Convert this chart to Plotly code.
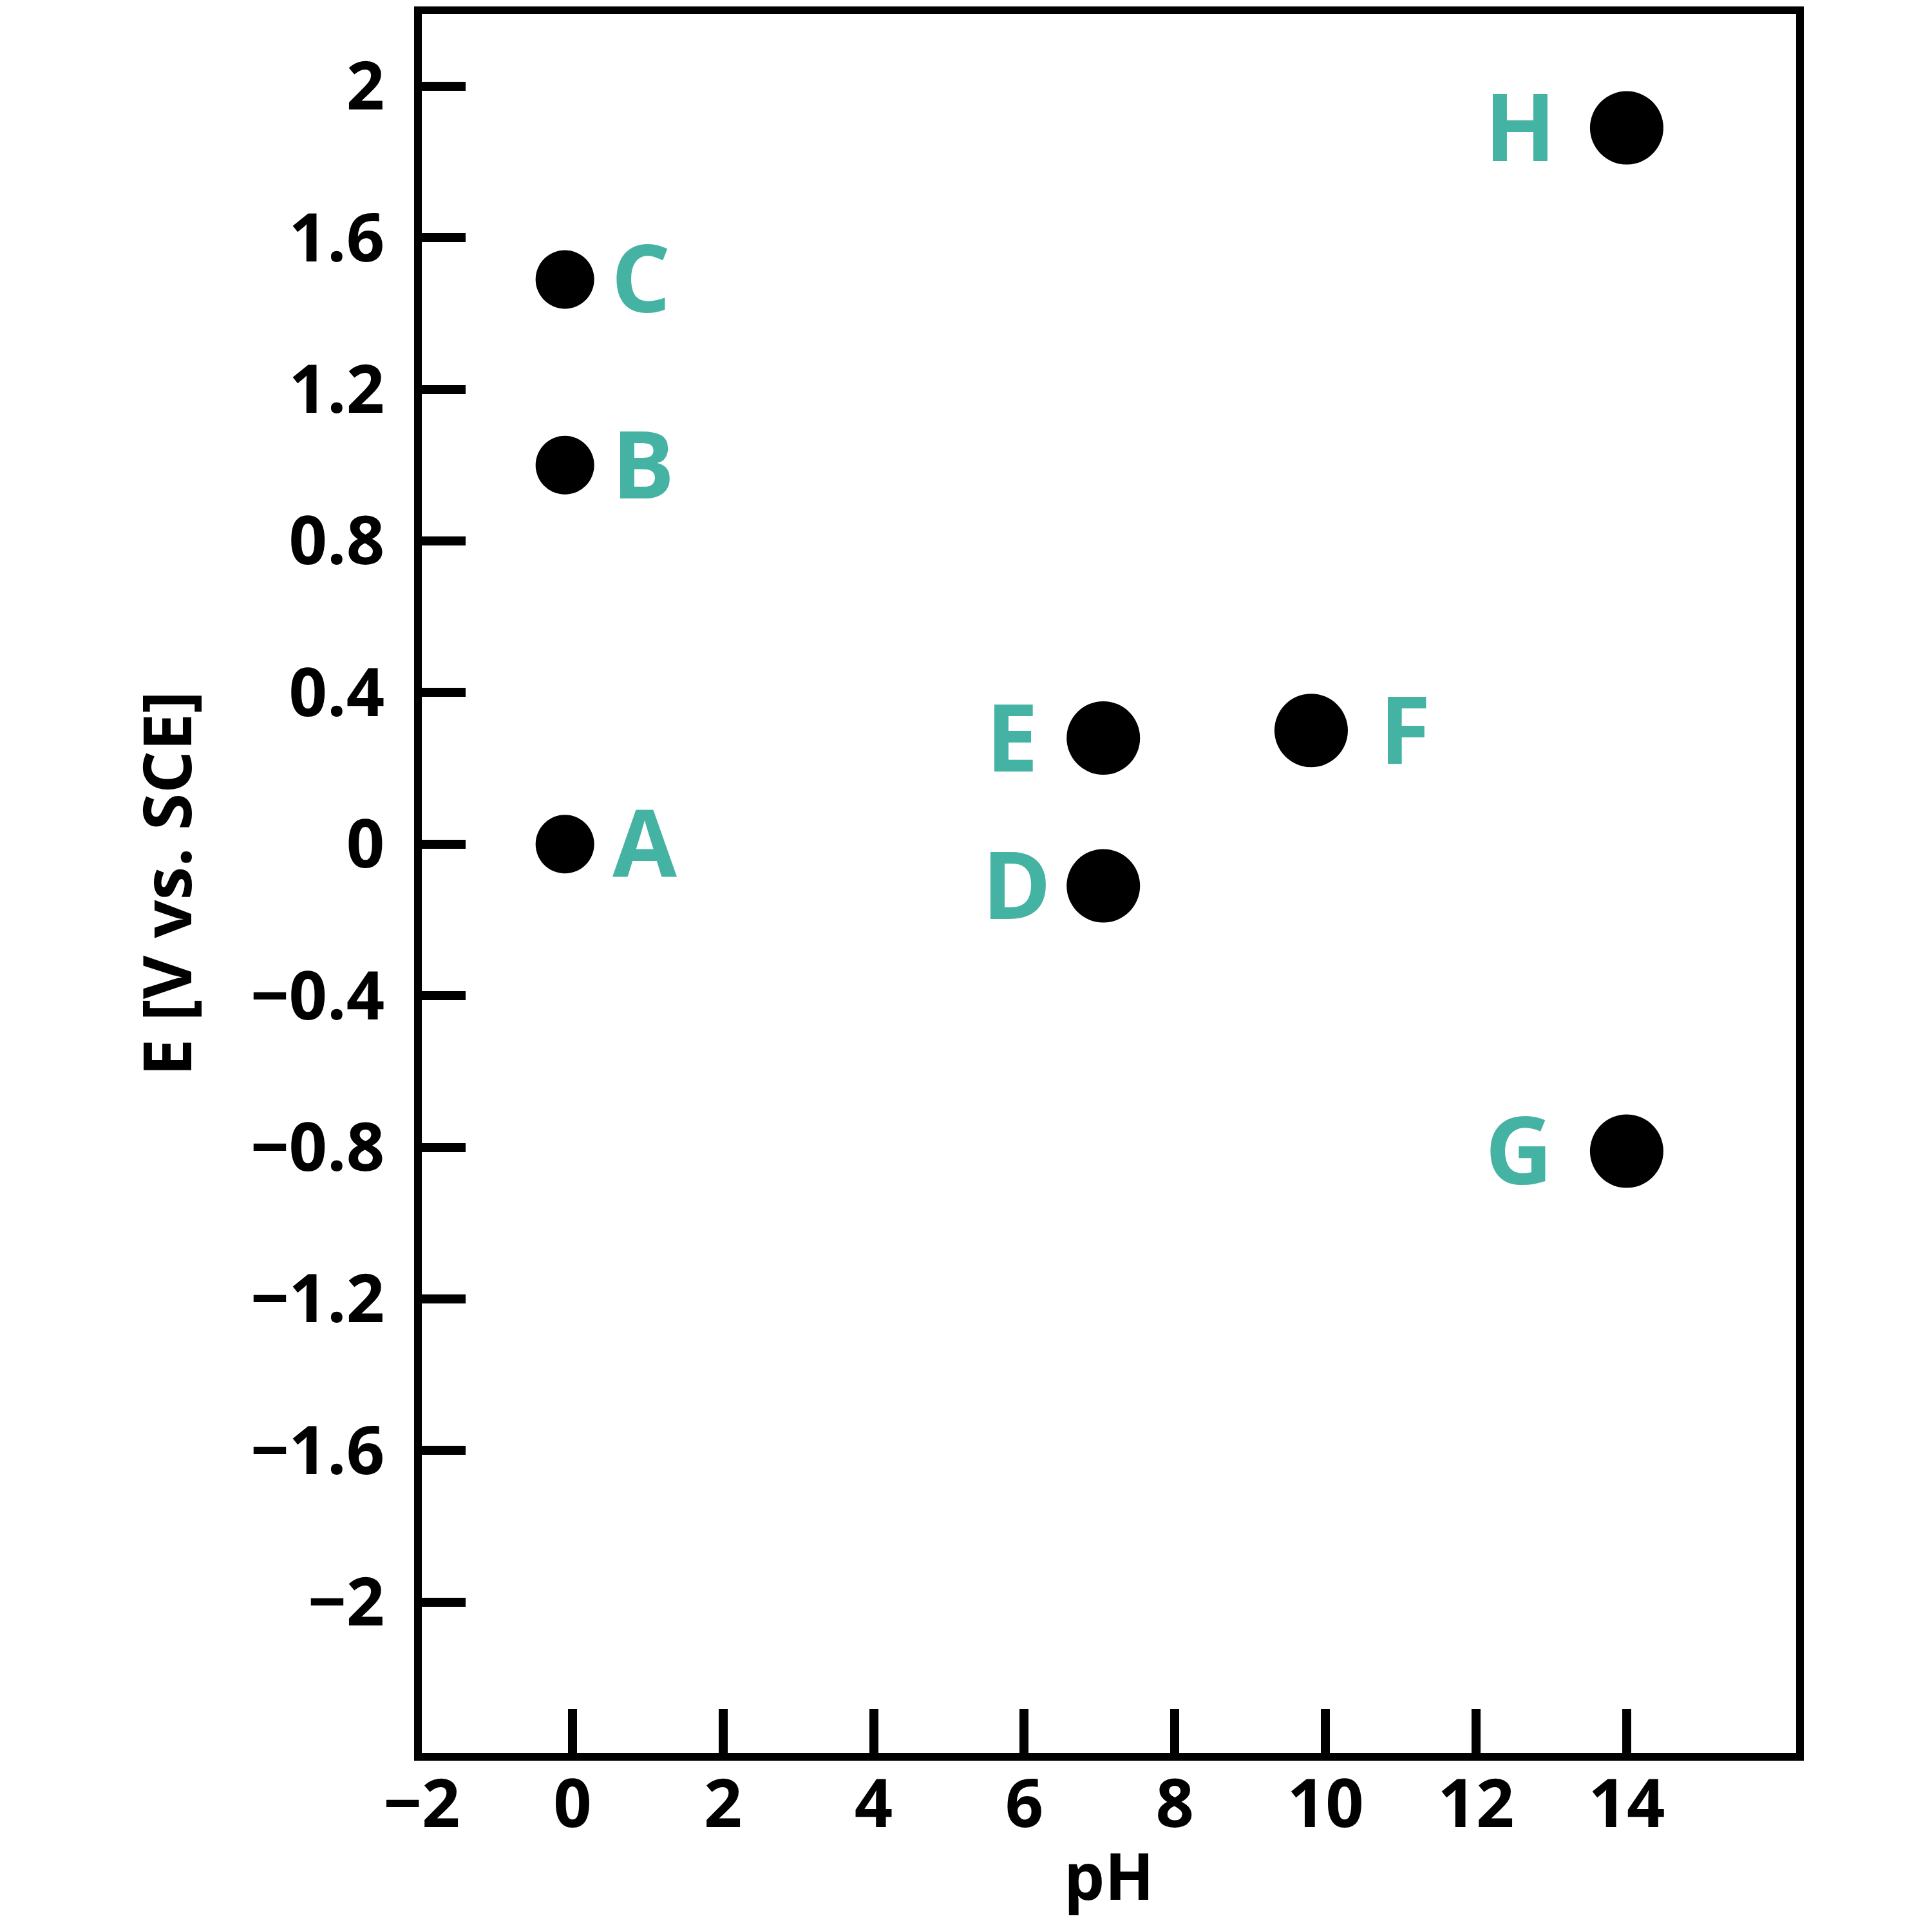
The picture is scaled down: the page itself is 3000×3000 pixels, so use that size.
import plotly.graph_objects as go

# point data
labels = ['A', 'B', 'C', 'D', 'E', 'F', 'G', 'H']
ph = [-0.1, -0.1, -0.1, 7.05, 7.05, 9.81, 14, 14]
potential = [0.0, 1.0, 1.49, -0.11, 0.28, 0.30, -0.81, 1.89]
sizes = [91, 91, 91, 114, 114, 114, 114, 114]
label_side = ['right', 'right', 'right', 'left', 'left', 'right', 'left', 'left']
label_gap = [26, 25, 24, 22, 42, 47, 56, 51]

x_ticks = [-2, 0, 2, 4, 6, 8, 10, 12, 14]
x_ticktext = ['\u22122', '0', '2', '4', '6', '8', '10', '12', '14']
y_ticks = [2, 1.6, 1.2, 0.8, 0.4, 0, -0.4, -0.8, -1.2, -1.6, -2]
y_ticktext = ['2', '1.6', '1.2', '0.8', '0.4', '0', '\u22120.4', '\u22120.8',
              '\u22121.2', '\u22121.6', '\u22122']

TEAL = '#45b3a3'
FONT = 'Open Sans'

fig = go.Figure(go.Scatter(
    x=ph, y=potential, mode='markers',
    marker=dict(size=sizes, color='#000000', opacity=1,
                line=dict(color='#000000', width=0)),
    cliponaxis=False,
    hoverinfo='skip',
))

# letter labels beside each point
for x, y, lab, s, side, gap in zip(ph, potential, labels, sizes, label_side, label_gap):
    sign = 1 if side == 'right' else -1
    fig.add_annotation(
        x=x, y=y, text='<b>%s</b>' % lab, showarrow=False,
        xanchor='left' if side == 'right' else 'right', yanchor='middle',
        xshift=sign * (s / 2 + gap), yshift=5,
        font=dict(family=FONT, size=145, color=TEAL),
    )

axis_common = dict(
    showline=True, linecolor='black', linewidth=12, mirror=True,
    ticks='inside', ticklen=68, tickwidth=14, tickcolor='black',
    showgrid=False, zeroline=False,
    tickfont=dict(family=FONT, size=104, color='black', weight='bold'),
)

fig.update_xaxes(
    range=[-2, 16.25], tickmode='array', tickvals=x_ticks, ticktext=x_ticktext,
    ticklabelstandoff=-22,
    title=dict(text='<b>pH</b>', font=dict(family=FONT, size=100, color='black'),
               standoff=19),
    **axis_common,
)
fig.update_yaxes(
    range=[-2.398, 2.19], tickmode='array', tickvals=y_ticks, ticktext=y_ticktext,
    ticklabelstandoff=25,
    title=dict(text='<b>E [V vs. SCE]</b>', font=dict(family=FONT, size=104, color='black'),
               standoff=62),
    **axis_common,
)

fig.update_layout(
    width=3000, height=3000,
    margin=dict(l=647, r=219, t=2, b=286),
    paper_bgcolor='white', plot_bgcolor='white',
    showlegend=False,
)

fig.write_html('out.html')
